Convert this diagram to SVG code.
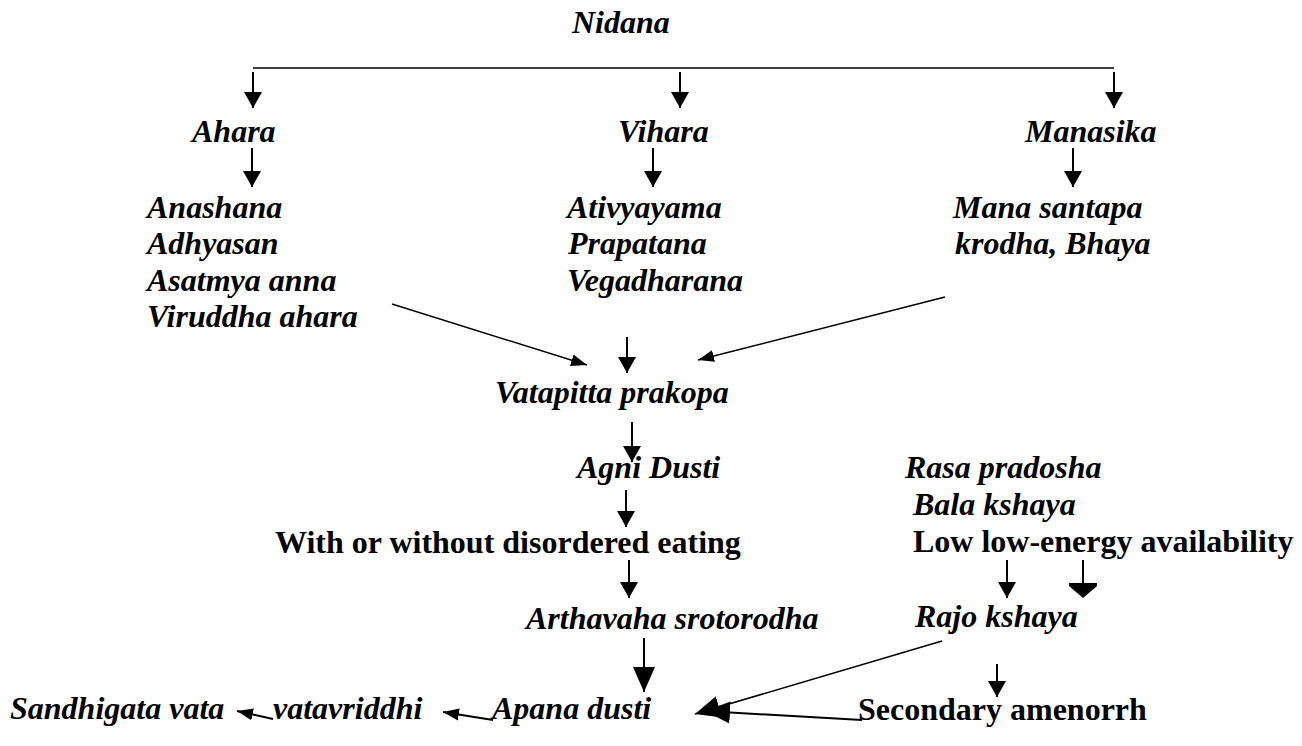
<svg xmlns="http://www.w3.org/2000/svg" width="1302" height="746" viewBox="0 0 1302 746">
<style>
text{font-family:"Liberation Serif","Times New Roman",serif;font-size:32px;font-weight:bold;fill:#000}
.i{font-style:italic}
.ln{stroke:#000;stroke-width:2;fill:none}
.thin{stroke:#000;stroke-width:1.5;fill:none}
</style>
<defs>
<marker id="vh" markerUnits="userSpaceOnUse" markerWidth="18" markerHeight="18" refX="16" refY="9" orient="auto" viewBox="0 0 17 18"><path d="M0,0 L16,9 L0,18 z" fill="#000"/></marker>
<marker id="dh" markerUnits="userSpaceOnUse" markerWidth="17" markerHeight="13" refX="16" refY="6" orient="auto" viewBox="0 0 17 12"><path d="M0,0 L16,6 L0,12 z" fill="#000"/></marker>
<marker id="bh" markerUnits="userSpaceOnUse" markerWidth="26" markerHeight="24" refX="25" refY="11" orient="auto" viewBox="0 0 26 22"><path d="M0,0 L25,11 L0,22 z" fill="#000"/></marker>
</defs>
<rect width="1302" height="746" fill="#fff"/>
<g id="connectors">
<line class="thin" x1="253" y1="68" x2="1114" y2="68"/>
<line class="ln" x1="253" y1="72" x2="253" y2="108" marker-end="url(#vh)"/>
<line class="ln" x1="680" y1="72" x2="680" y2="108" marker-end="url(#vh)"/>
<line class="ln" x1="1114" y1="72" x2="1114" y2="108" marker-end="url(#vh)"/>
<line class="ln" x1="252" y1="148" x2="252" y2="187" marker-end="url(#vh)"/>
<line class="ln" x1="653" y1="148" x2="653" y2="187" marker-end="url(#vh)"/>
<line class="ln" x1="1073" y1="148" x2="1073" y2="187" marker-end="url(#vh)"/>
<line class="thin" x1="392" y1="304" x2="587" y2="365" marker-end="url(#dh)"/>
<line class="thin" x1="945" y1="297" x2="698" y2="360" marker-end="url(#dh)"/>
<line class="ln" x1="627" y1="337" x2="627" y2="373" marker-end="url(#vh)"/>
<line class="ln" x1="632" y1="422" x2="632" y2="462" marker-end="url(#vh)"/>
<line class="ln" x1="626" y1="490" x2="626" y2="527" marker-end="url(#vh)"/>
<line class="ln" x1="629" y1="560" x2="629" y2="598" marker-end="url(#vh)"/>
<line class="ln" x1="1007" y1="560" x2="1007" y2="598" marker-end="url(#vh)"/>
<line class="ln" x1="1083" y1="560" x2="1083" y2="584"/>
<polygon points="1069,583 1097,583 1097,586 1083,598 1069,586" fill="#000"/>
<line class="ln" x1="644" y1="638" x2="644" y2="692" marker-end="url(#bh)"/>
<line class="ln" x1="997" y1="664" x2="997" y2="697" marker-end="url(#vh)"/>
<line class="thin" x1="942" y1="641" x2="695" y2="714" marker-end="url(#bh)"/>
<line class="ln" x1="862" y1="720" x2="705" y2="711" marker-end="url(#bh)"/>
<line class="ln" x1="273" y1="719" x2="237" y2="711" marker-end="url(#dh)"/>
<line class="ln" x1="493" y1="720" x2="443" y2="712" marker-end="url(#dh)"/>
</g>
<g id="n-nidana"><text class="i" x="572" y="33">Nidana</text></g>
<g id="n-ahara"><text class="i" x="192" y="142">Ahara</text></g>
<g id="n-vihara"><text class="i" x="618" y="142">Vihara</text></g>
<g id="n-manasika"><text class="i" x="1025" y="142">Manasika</text></g>
<g id="n-ahara-list">
<text class="i" x="147" y="218">Anashana</text>
<text class="i" x="147" y="254">Adhyasan</text>
<text class="i" x="147" y="291">Asatmya anna</text>
<text class="i" x="147" y="327">Viruddha ahara</text>
</g>
<g id="n-vihara-list">
<text class="i" x="567" y="218">Ativyayama</text>
<text class="i" x="568" y="254">Prapatana</text>
<text class="i" x="567" y="291">Vegadharana</text>
</g>
<g id="n-manasika-list">
<text class="i" x="953" y="218">Mana santapa</text>
<text class="i" x="955" y="254">krodha, Bhaya</text>
</g>
<g id="n-vatapitta"><text class="i" x="495" y="403">Vatapitta prakopa</text></g>
<g id="n-agni"><text class="i" x="577" y="478">Agni Dusti</text></g>
<g id="n-rasa">
<text class="i" x="905" y="478">Rasa pradosha</text>
<text class="i" x="913" y="515">Bala kshaya</text>
</g>
<g id="n-disordered"><text x="275" y="553">With or without disordered eating</text></g>
<g id="n-lea"><text x="913" y="552">Low low-energy availability</text></g>
<g id="n-arthavaha"><text class="i" x="526" y="629">Arthavaha srotorodha</text></g>
<g id="n-rajo"><text class="i" x="915" y="627">Rajo kshaya</text></g>
<g id="n-sandhigata"><text class="i" x="10" y="719">Sandhigata vata</text></g>
<g id="n-vatavriddhi"><text class="i" x="273" y="719">vatavriddhi</text></g>
<g id="n-apana"><text class="i" x="492" y="719">Apana dusti</text></g>
<g id="n-secondary"><text x="858" y="720">Secondary amenorrh</text></g>
</svg>
